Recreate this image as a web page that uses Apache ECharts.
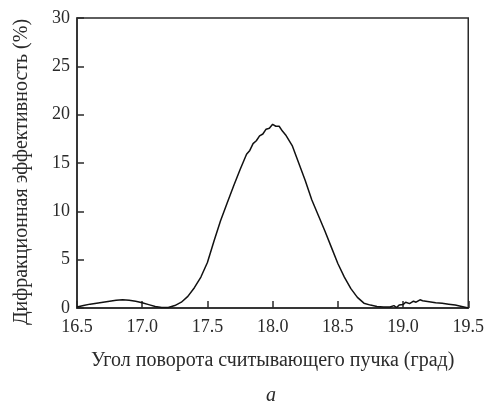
<!DOCTYPE html>
<html>
<head>
<meta charset="utf-8">
<script src="https://cdn.jsdelivr.net/npm/echarts@6/dist/echarts.min.js"></script>
<style>
  html, body { margin: 0; padding: 0; background: #fff; }
  #chart { width: 487px; height: 405px; }
</style>
</head>
<body>
<div id="chart"></div>
<script>
// Diffraction efficiency vs. rotation angle of the reading beam
const angles = [
  16.50, 16.55, 16.60, 16.65, 16.70, 16.75, 16.80, 16.85, 16.90, 16.95,
  17.00, 17.05, 17.10, 17.15, 17.20, 17.25, 17.30, 17.35, 17.40, 17.45,
  17.50, 17.55, 17.60, 17.65, 17.70, 17.75, 17.80, 17.825, 17.85, 17.875,
  17.90, 17.925, 17.95, 17.975, 18.00, 18.025, 18.05, 18.075, 18.10, 18.15,
  18.20, 18.25, 18.30, 18.35, 18.40, 18.45, 18.50, 18.55, 18.60, 18.65,
  18.70, 18.75, 18.80, 18.85, 18.90, 18.93, 18.95, 18.97, 19.00, 19.02,
  19.05, 19.08, 19.10, 19.13, 19.15, 19.20, 19.25, 19.30, 19.35, 19.40,
  19.45, 19.50
];
const efficiency = [
  0.10, 0.25, 0.40, 0.50, 0.60, 0.70, 0.80, 0.85, 0.80, 0.70,
  0.55, 0.35, 0.15, 0.05, 0.05, 0.25, 0.60, 1.20, 2.10, 3.20,
  4.70, 6.90, 9.00, 10.8, 12.6, 14.3, 15.9, 16.3, 17.0, 17.3,
  17.8, 18.0, 18.5, 18.6, 19.0, 18.8, 18.8, 18.3, 17.9, 16.8,
  15.0, 13.2, 11.2, 9.60, 8.00, 6.30, 4.60, 3.20, 2.00, 1.10,
  0.50, 0.30, 0.15, 0.10, 0.10, 0.25, 0.05, 0.30, 0.35, 0.60,
  0.45, 0.70, 0.60, 0.85, 0.75, 0.65, 0.55, 0.50, 0.40, 0.30,
  0.15, 0.00
];
const xTicks = [16.5, 17.0, 17.5, 18.0, 18.5, 19.0, 19.5];
const yTicks = [0, 5, 10, 15, 20, 25, 30];

const serif = '"Liberation Serif", "DejaVu Serif", serif';
const ink = '#2a2a2a';

const chart = echarts.init(document.getElementById('chart'), null, { renderer: 'canvas' });
chart.setOption({
  animation: false,
  backgroundColor: '#fff',
  grid: {
    left: 77, right: 17, top: 18, bottom: 97,
    show: true, borderColor: ink, borderWidth: 1.5, backgroundColor: 'transparent'
  },
  xAxis: {
    type: 'value',
    min: xTicks[0], max: xTicks[xTicks.length - 1], interval: 0.5,
    name: 'Угол поворота считывающего пучка (град)',
    nameLocation: 'middle', nameGap: 43,
    nameTextStyle: { fontFamily: serif, fontSize: 20, color: ink },
    axisLine: { lineStyle: { color: ink, width: 1.5 } },
    axisTick: { inside: true, length: 7, lineStyle: { color: ink, width: 1.5 } },
    axisLabel: {
      fontFamily: serif, fontSize: 18, color: ink, margin: 10,
      formatter: v => v.toFixed(1)
    },
    splitLine: { show: false }
  },
  yAxis: {
    type: 'value',
    min: yTicks[0], max: yTicks[yTicks.length - 1], interval: 5,
    name: 'Дифракционная эффективность (%)',
    nameLocation: 'middle', nameGap: 45,
    nameTextStyle: { fontFamily: serif, fontSize: 20, color: ink, padding: [0, 18, 0, 0] },
    axisLine: { lineStyle: { color: ink, width: 1.5 } },
    axisTick: { inside: true, length: 7, lineStyle: { color: ink, width: 1.5 } },
    axisLabel: { fontFamily: serif, fontSize: 18, color: ink, margin: 7 },
    splitLine: { show: false }
  },
  graphic: [{
    type: 'text', left: 266, top: 386,
    style: { text: 'a', font: 'italic 20px ' + serif, fill: ink }
  }],
  series: [{
    type: 'line',
    data: angles.map((a, i) => [a, efficiency[i]]),
    showSymbol: false,
    smooth: false,
    lineStyle: { color: '#111', width: 1.5 }
  }]
});
</script>
</body>
</html>
